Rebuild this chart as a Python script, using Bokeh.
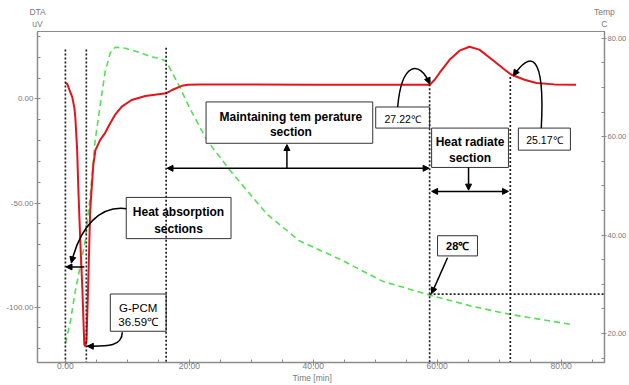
from bokeh.plotting import figure
from bokeh.models import Range1d, LinearAxis, FixedTicker, PrintfTickFormatter, Arrow, NormalHead, Label
from bokeh.embed import file_html
from bokeh.resources import INLINE

# ---------------- data ----------------
dta_time = [0.0, 0.3, 0.65, 1.1, 1.45, 1.6, 1.9, 2.1, 2.4, 2.75, 3.05, 3.2, 3.4, 3.7, 4.0, 4.5,
            4.85, 5.6, 6.4, 6.9, 8.0, 9.1, 10.7, 12.9, 16.26, 17.2, 18.8, 19.8, 21.7, 30.0, 40.0,
            50.0, 58.8, 59.6, 60.4, 62.0, 63.6, 65.2, 66.8, 68.9, 70.9, 72.0, 74.1, 76.0, 78.9, 82.4]
dta_uv = [7.7, 7.2, 4.3, 1.0, -4.3, -8.7, -24.6, -44.0, -68.0, -92.0, -117.9, -118.8, -116.4, -87.4, -53.6, -31.9,
          -24.6, -19.8, -16.4, -13.5, -7.7, -3.7, -0.5, 1.4, 2.7, 4.3, 6.3, 6.8, 7.0, 7.0, 6.8,
          6.8, 6.8, 9.2, 12.6, 18.8, 23.2, 25.1, 23.7, 18.8, 14.0, 11.6, 9.2, 7.7, 7.0, 6.8]

temp_time = [0.0, 0.8, 1.6, 2.4, 3.2, 4.0, 4.8, 5.6, 6.4, 7.25, 8.05, 9.65, 12.1, 13.7, 15.3, 16.3,
             17.2, 18.5, 20.1, 22.9, 26.6, 32.5, 37.8, 44.3, 51.2, 58.8, 65.7, 71.7, 81.8]
temp_c = [18.0, 22.4, 28.6, 33.7, 38.8, 48.0, 59.2, 66.3, 73.1, 77.1, 78.2, 78.0, 77.1, 76.3, 75.9, 75.3,
          73.1, 70.0, 65.7, 59.2, 53.1, 44.3, 38.8, 35.1, 30.6, 27.8, 25.5, 23.9, 21.8]

section_times = [0.0, 3.38, 16.26, 58.78, 71.8]
section_tops = [23.7, 23.7, 24.6, 9.0, 10.6]
ref_temp = 28.0

x_ticks = [0, 20, 40, 60, 80]
dta_ticks = [-100, -50, 0]
temp_ticks = [20, 40, 60, 80]
axis_titles = {"left": "DTA\nuV", "right": "Temp\nC", "bottom": "Time  [min]"}

X0, X1 = -4.5, 87.0
FONT = "'Liberation Sans', Arial, sans-serif"
GREY = "#8c8c8c"
LBL = "#7a7a7a"

p = figure(width=629, height=385, x_range=Range1d(X0, X1), y_range=Range1d(-126.6, 32.4),
           output_backend="svg", toolbar_location=None,
           min_border_left=37, min_border_right=24, min_border_top=31, min_border_bottom=22)
p.extra_y_ranges = {"temp": Range1d(14.1, 81.4)}
p.grid.visible = False
p.outline_line_color = GREY
p.outline_line_width = 1.2
p.background_fill_color = "white"
p.border_fill_color = "white"


def style_axis(ax, size="8px"):
    ax.axis_line_color = GREY
    ax.axis_line_width = 1.3
    ax.major_tick_line_color = GREY
    ax.minor_tick_line_color = GREY
    ax.major_tick_out = 3
    ax.major_tick_in = 0
    ax.minor_tick_in = 3
    ax.minor_tick_out = 0
    ax.major_label_text_color = LBL
    ax.major_label_text_font = FONT
    ax.major_label_text_font_size = size
    ax.major_label_standoff = 1
    ax.formatter = PrintfTickFormatter(format="%.2f")


# bottom axis: the axis title rides under the centre tick label
x_labels = {t: "%.2f" % t for t in x_ticks}
x_labels[40] = x_labels[40] + "\n" + axis_titles["bottom"]
p.xaxis.ticker = FixedTicker(ticks=x_ticks, minor_ticks=list(range(-5, 90, 5)))
p.yaxis.ticker = FixedTicker(ticks=dta_ticks, minor_ticks=list(range(-120, 40, 10)))
style_axis(p.xaxis[0], "8.5px")
style_axis(p.yaxis[0])
p.xaxis.major_label_overrides = x_labels
p.xaxis.major_label_standoff = -5

rax = LinearAxis(y_range_name="temp",
                 ticker=FixedTicker(ticks=temp_ticks, minor_ticks=list(range(15, 85, 5))))
style_axis(rax, "7.5px")
rax.major_label_standoff = 1
rax.major_tick_out = 2
p.add_layout(rax, "right")

# axis titles at the top corners
tl, tr = round(X0 + 0.01, 2), round(X1 - 0.01, 2)
tax = LinearAxis(ticker=FixedTicker(ticks=[tl, tr]),
                 major_label_overrides={tl: axis_titles["left"], tr: axis_titles["right"]})
tax.axis_line_alpha = 0
tax.major_tick_line_alpha = 0
tax.minor_tick_line_alpha = 0
tax.major_tick_out = 0
tax.major_tick_in = 0
tax.minor_tick_out = 0
tax.minor_tick_in = 0
tax.major_label_text_color = LBL
tax.major_label_text_font = FONT
tax.major_label_text_font_size = "8.5px"
tax.major_label_standoff = 3
p.add_layout(tax, "above")

# ---------------- curves ----------------
p.line(temp_time, temp_c, y_range_name="temp", line_color="#55e055", line_width=1.6, line_dash="6 4")
p.line(dta_time, dta_uv, line_color="#e8121a", line_width=2)

# ---------------- boxes ----------------
boxes = dict(
    left=[9.82, 7.25, 22.7, 50.08, 59.1, 73.1, 60.06],
    right=[26.73, 16.26, 49.6, 58.78, 71.5, 81.5, 66.5],
    top=[-47.3, -93.7, -1.45, -3.86, -14.0, -14.0, -65.7],
    bottom=[-67.1, -111.6, -21.3, -14.0, -32.9, -24.6, -75.4],
)
p.quad(**boxes, fill_color="white", line_color="#333333", line_width=1)

# dotted markers
p.segment(x0=section_times, y0=section_tops, x1=section_times, y1=[-130] * len(section_times),
          line_color="#222222", line_width=1.7, line_dash="2 2")
p.segment(x0=[section_times[3]], y0=[ref_temp], x1=[90], y1=[ref_temp], y_range_name="temp",
          line_color="#222222", line_width=1.7, line_dash="2 2")

# ---------------- connector curves ----------------
curves = dict(
    x0=[9.82, 9.18, 53.62, 76.8],
    y0=[-52.7, -112.1, -3.86, -14.0],
    cx0=[5.64, 9.18, 54.27, 77.46],
    cy0=[-51.2, -119.3, 17.9, 23.7],
    cx1=[2.42, 6.44, 57.17, 74.9],
    cy1=[-60.9, -118.8, 18.8, 22.7],
    x1=[0.97, 3.54, 58.78, 72.3],
    y1=[-78.7, -118.8, 7.25, 11.1],
)
p.bezier(**curves, line_color="black", line_width=1.5)
for i in range(4):
    p.add_layout(Arrow(end=NormalHead(size=6, fill_color="black", line_color="black"),
                       x_start=curves["cx1"][i], y_start=curves["cy1"][i],
                       x_end=curves["x1"][i], y_end=curves["y1"][i], line_alpha=0))


def arrow(xs, ys, xe, ye, both=False):
    kw = dict(end=NormalHead(size=6, fill_color="black", line_color="black"))
    if both:
        kw["start"] = NormalHead(size=6, fill_color="black", line_color="black")
    p.add_layout(Arrow(x_start=xs, y_start=ys, x_end=xe, y_end=ye,
                       line_color="black", line_width=1.5, **kw))


arrow(3.06, -80.7, 0.1, -80.7)
arrow(35.75, -33.3, 35.75, -21.9)
arrow(16.4, -33.3, 58.7, -33.3, both=True)
arrow(65.06, -32.9, 65.06, -43.8)
arrow(59.1, -44.4, 71.5, -44.4, both=True)
arrow(61.67, -76.3, 59.1, -93.5)

# ---------------- texts ----------------
def label(x, y, text, size="12px", bold=False, color="black"):
    p.add_layout(Label(x=x, y=y, text=text, text_align="center", text_baseline="middle",
                       text_font=FONT, text_font_size=size, text_color=color,
                       text_font_style="bold" if bold else "normal"))


label(18.25, -54.1, "Heat absorption", "12px", True)
label(18.25, -62.3, "sections", "12px", True)
label(11.76, -100.5, "G-PCM", "11.5px")
label(11.76, -107.2, "36.59℃", "11.5px")
label(36.4, -8.7, "Maintaining tem perature", "12px", True)
label(36.4, -15.9, "section", "12px", True)
label(54.43, -9.4, "27.22℃", "10.5px")
label(65.3, -20.5, "Heat radiate", "12px", True)
label(65.3, -28.3, "section", "12px", True)
label(77.3, -19.6, "25.17℃", "10.5px")
label(63.3, -70.6, "28℃", "11px", True)

open("out.html", "w").write(file_html(p, INLINE))
